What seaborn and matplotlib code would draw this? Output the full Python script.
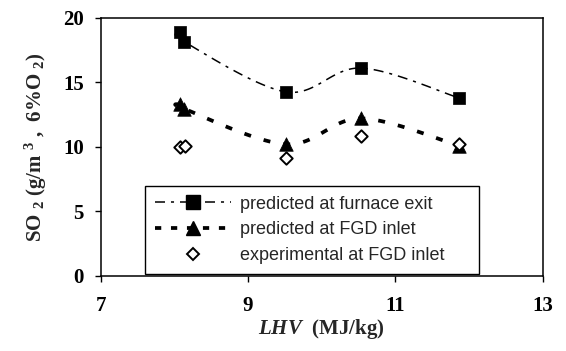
import numpy as np
import pandas as pd
import seaborn as sns
import matplotlib
matplotlib.use("Agg")
import matplotlib.pyplot as plt
from matplotlib.lines import Line2D

# data
lhv = [8.08, 8.13, 9.52, 10.53, 11.86]
so2_furnace = [18.9, 18.15, 14.25, 16.1, 13.8]
so2_fgd_pred = [13.3, 12.95, 10.2, 12.2, 10.1]
lhv_exp = [8.08, 8.14, 9.52, 10.53, 11.86]
so2_fgd_exp = [9.95, 10.1, 9.15, 10.85, 10.25]

x_ticks = [7, 9, 11, 13]
y_ticks = [0, 5, 10, 15, 20]


def smooth(xs, ys, n=30):
    # Excel-like smoothed line: cubic Bezier segments through the points
    p = np.column_stack([xs, ys]).astype(float)
    out = []
    for i in range(len(p) - 1):
        p0 = p[i - 1] if i > 0 else p[i]
        p3 = p[i + 2] if i + 2 < len(p) else p[i + 1]
        b0, b3 = p[i], p[i + 1]
        b1 = b0 + (b3 - p0) / 6
        b2 = b3 - (p3 - b0) / 6
        t = np.linspace(0, 1, n)[:, None]
        seg = ((1 - t) ** 3) * b0 + 3 * ((1 - t) ** 2) * t * b1 + 3 * (1 - t) * t ** 2 * b2 + t ** 3 * b3
        out.append(seg if i == 0 else seg[1:])
    seg = np.vstack(out)
    return pd.DataFrame({"x": seg[:, 0], "y": seg[:, 1]})


sns.set_style("ticks")
plt.rcParams["font.family"] = ["Liberation Serif", "DejaVu Serif"]
plt.rcParams["mathtext.fontset"] = "custom"
plt.rcParams["mathtext.rm"] = "Liberation Serif:bold"
plt.rcParams["mathtext.bf"] = "Liberation Serif:bold"
plt.rcParams["mathtext.it"] = "Liberation Serif:italic:bold"
plt.rcParams["lines.scale_dashes"] = False

fig, ax = plt.subplots(figsize=(5.66, 3.51), dpi=100)
fig.subplots_adjust(left=0.178, right=0.9585, bottom=0.2137, top=0.9496)

furnace_dash = (7.2, 4.3, 2.2, 4.3)
fgd_dash = (5, 9.5)

sns.lineplot(data=smooth(lhv, so2_furnace), x="x", y="y", sort=False, ax=ax,
             color="black", lw=1.1, estimator=None)
ax.lines[-1].set_dashes(furnace_dash)
sns.lineplot(data=smooth(lhv, so2_fgd_pred), x="x", y="y", sort=False, ax=ax,
             color="black", lw=2.7, estimator=None)
ax.lines[-1].set_dashes(fgd_dash)

sns.scatterplot(x=lhv, y=so2_furnace, marker="s", s=85, color="black",
                edgecolor="black", linewidth=0.5, ax=ax, zorder=3)
sns.scatterplot(x=lhv, y=so2_fgd_pred, marker="^", s=95, color="black",
                edgecolor="black", linewidth=0.5, ax=ax, zorder=3)
sns.scatterplot(x=lhv_exp, y=so2_fgd_exp, marker="D", s=40, facecolor="white",
                edgecolor="black", linewidth=1.4, ax=ax, zorder=4)

ax.set_xlim(7, 13)
ax.set_ylim(0, 20)
ax.set_xticks(x_ticks)
ax.set_yticks(y_ticks)
for s in ax.spines.values():
    s.set_visible(True)
    s.set_linewidth(1.1)
    s.set_color("black")
ax.tick_params(axis="both", direction="out", length=4.3, width=1, colors="black", labelsize=15)
ax.tick_params(axis="x", pad=10)
ax.tick_params(axis="y", pad=8)
for lab in ax.get_xticklabels() + ax.get_yticklabels():
    lab.set_fontweight("bold")

ax.set_xlabel(r"$LHV$  (MJ/kg)", fontsize=15, fontweight="bold", labelpad=1)
ax.set_ylabel(r"SO $_2$ (g/m $^3$ ,  6%O $_2$)", fontsize=15, fontweight="bold", labelpad=10)

handles = [
    Line2D([], [], color="black", lw=1.1, dashes=furnace_dash, marker="s", markersize=9.5),
    Line2D([], [], color="black", lw=2.7, dashes=(4.5, 7), marker="^", markersize=10),
    Line2D([], [], color="none", marker="D", markersize=6.3, markerfacecolor="white",
           markeredgecolor="black", markeredgewidth=1.4),
]
labels = ["predicted at furnace exit", "predicted at FGD inlet", "experimental at FGD inlet"]
leg = ax.legend(handles, labels, loc="lower left", bbox_to_anchor=(0.1, 0.008, 0.756, 0.325),
                mode="expand", frameon=True, fancybox=False, handlelength=4.2,
                handletextpad=0.5, borderpad=0.55, labelspacing=0.48, borderaxespad=0,
                prop={"family": "Liberation Sans", "size": 13})
leg.get_frame().set_edgecolor("black")
leg.get_frame().set_linewidth(1.0)
leg.get_frame().set_alpha(1)

plt.savefig("out.png", dpi=100)
